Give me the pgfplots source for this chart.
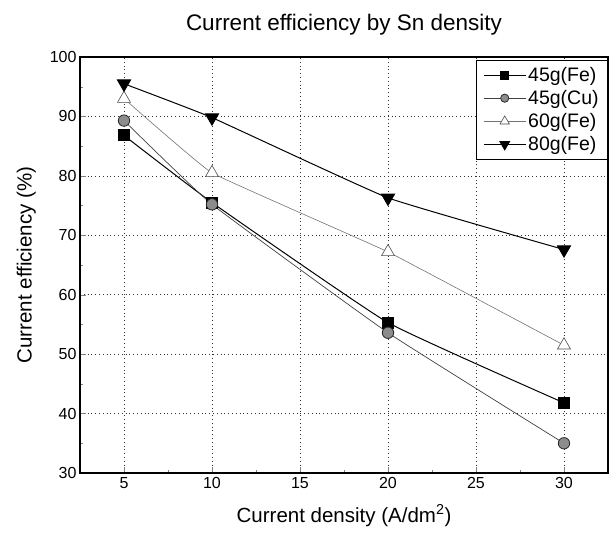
\documentclass[border=0pt]{standalone}
\usepackage{pgfplots}
\pgfplotsset{compat=1.18}
\usepackage{fontspec}
\setmainfont{Liberation Sans}
\begin{document}
\begin{tikzpicture}
\begin{axis}[
  name=ax,
  scale only axis,
  width=528bp, height=416bp,
  xmin=2.5, xmax=32.5, ymin=30, ymax=100,
  xtick={5,10,15,20,25,30},
  ytick={30,40,50,60,70,80,90,100},
  minor x tick num=1, minor y tick num=1,
  tick pos=left,
  tick align=inside,
  major tick length=6bp, minor tick length=3.5bp,
  grid=major,
  major grid style={black!80, dash pattern=on 0.8bp off 3bp, line width=0.5pt},
  axis line style={line width=1.1pt},
  /pgf/number format/assume math mode=true,
  ticklabel style={font=\fontsize{16bp}{18bp}\selectfont},
  xticklabel style={yshift=-1bp},
  xlabel={Current density (A/dm\textsuperscript{2})},
  ylabel={Current efficiency (\%)},
  label style={font=\fontsize{20.5bp}{22bp}\selectfont},
  xlabel style={yshift=-9bp},
  ylabel style={yshift=7bp},
  title={Current efficiency by Sn density},
  title style={font=\fontsize{22.5bp}{25bp}\selectfont, yshift=12bp},
  legend style={at={(1,0.993)}, anchor=north east, draw=black, line width=0.7pt,
    font=\fontsize{19.5bp}{22bp}\selectfont, row sep=3.5bp, inner xsep=7bp, inner ysep=5bp},
  legend cell align=left,
  legend image code/.code={%
    \draw[mark repeat=2, mark phase=2, #1, every mark/.append style={scale=0.72}]
      plot coordinates {(0bp,0bp) (21bp,0bp) (42bp,0bp)};},
]
\addplot[black, line width=1pt, smooth, tension=0.22, mark=square*, mark size=5.5bp, mark options={fill=black, solid}]
  coordinates {(5,86.8) (10,75.5) (20,55.3) (30,41.8)};
\addlegendentry{45g(Fe)}
\addplot[black!75, line width=0.7pt, smooth, tension=0.22, mark=*, mark size=5.7bp, mark options={fill=black!45, draw=black!85, line width=0.8pt}]
  coordinates {(5,89.3) (10,75.2) (20,53.6) (30,35.0)};
\addlegendentry{45g(Cu)}
\addplot[black!55, line width=0.6pt, smooth, tension=0.15, mark=triangle*, mark size=7.5bp, mark options={fill=white, draw=black!70, line width=0.6pt}]
  coordinates {(5,93.0) (10,80.5) (20,67.2) (30,51.5)};
\addlegendentry{60g(Fe)}
\addplot[black, line width=1pt, smooth, tension=0.2, mark=triangle*, mark size=7.5bp, mark options={fill=black, rotate=180, solid}]
  coordinates {(5,95.5) (10,89.8) (20,76.3) (30,67.6)};
\addlegendentry{80g(Fe)}
\end{axis}
\path[use as bounding box] ([xshift=-80bp,yshift=-66bp]ax.south west) rectangle ([xshift=5bp,yshift=57bp]ax.north east);
\end{tikzpicture}
\end{document}
